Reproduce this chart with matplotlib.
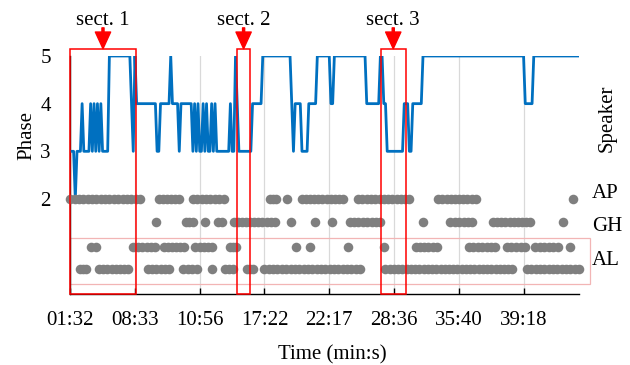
import numpy as np
import matplotlib
matplotlib.use("Agg")
import matplotlib.pyplot as plt
from matplotlib.patches import Rectangle
from matplotlib.transforms import blended_transform_factory

plt.rcParams["font.family"] = ["Liberation Serif", "DejaVu Serif"]
plt.rcParams["font.size"] = 15

# Time axis: one label every 38 time steps
TICK_LABELS = ["01:32", "08:33", "10:56", "17:22", "22:17", "28:36", "35:40", "39:18"]
TICK_STEP = 38
X_MAX = 298.7

# Phase per time step, run-length encoded as (phase, number of steps)
PHASE_RUNS = [
    (3, 3), (2, 1), (3, 3), (4, 1), (3, 4),
    (4, 1), (3, 1), (4, 1), (3, 1), (4, 1), (3, 1), (4, 1),
    (3, 4), (5, 13), (4, 1), (3, 1), (5, 1), (4, 12), (3, 2), (4, 6),
    (5, 1), (4, 4), (3, 1), (4, 7),
    (3, 1), (4, 1), (3, 1), (4, 1), (3, 2), (4, 1), (3, 1), (4, 1),
    (3, 2), (4, 1), (3, 1), (4, 1),
    (3, 8), (4, 1), (3, 2), (5, 1), (4, 1), (3, 8), (4, 6), (5, 17),
    (4, 1), (3, 1), (4, 4), (3, 4), (4, 5),
    (5, 8), (4, 2), (5, 19), (4, 8), (5, 2), (4, 2), (3, 10), (4, 3),
    (3, 2), (4, 6), (5, 60), (4, 5), (5, 27),
]

# Speaker rows: label, row height on the phase scale
SPEAKER_LABELS = ["AP", "GH", "AL"]
SPEAKER_LABEL_Y = [2.015, 1.33, 0.615]
ROW_Y = {"AP": 2.0, "GH": 1.52, "AL_upper": 1.0, "AL_lower": 0.54}

# Stretches of time steps (first, last) where each row has dots
AP_RUNS = [(0, 41), (52, 64), (72, 90), (117, 121), (127, 127), (136, 160),
           (169, 199), (216, 238), (295, 295)]
GH_RUNS = [(50.5, 50.5), (68, 72), (79, 79), (87, 89), (96, 120), (129.5, 129.5),
           (143.5, 143.5), (153.5, 153.5), (164, 182), (207, 207), (223, 236),
           (248, 270), (289, 289)]
AL_UPPER_RUNS = [(12.5, 15), (37, 50), (55, 67), (73.5, 83.5), (93.5, 97.5),
                 (132.5, 132.5), (140.5, 140.5), (163, 163), (184, 184), (203, 215),
                 (234, 249.5), (256, 267), (273, 286), (293, 293)]
AL_LOWER_RUNS = [(5.5, 9.5), (17, 34), (45.5, 58), (66, 74.5), (83.5, 83.5),
                 (91, 95.5), (103.5, 107.5), (114, 170), (185, 259.5), (268, 298.5)]

# Highlighted sections (first step, last step)
SECTIONS = ["sect. 1", "sect. 2", "sect. 3"]
SECTION_SPANS = [(0, 38.5), (98, 105.5), (182.3, 196.8)]

DOT_GAP = 2.5  # spacing of dots inside a stretch, in time steps


def run_dots(runs):
    """Expand (first, last) stretches into dot positions."""
    xs = []
    for a, b in runs:
        n = int(round((b - a) / DOT_GAP)) + 1
        xs.extend(np.linspace(a, b, n))
    return np.array(xs)


fig = plt.figure(figsize=(6.3, 3.65), dpi=100)
ax = fig.add_axes([0.1114, 0.1937, 0.8081, 0.6529])

# Phase line
phase = np.repeat([p for p, _ in PHASE_RUNS], [n for _, n in PHASE_RUNS])
steps = np.arange(len(phase))
ax.plot(steps, phase, color="#0070C0", lw=2.0, zorder=3)

# Speaker dots
rows = [("AP", AP_RUNS), ("GH", GH_RUNS), ("AL_upper", AL_UPPER_RUNS), ("AL_lower", AL_LOWER_RUNS)]
for name, runs in rows:
    xs = run_dots(runs)
    ax.scatter(xs, np.full(len(xs), ROW_Y[name]), s=6.9 ** 2, color="#7F7F7F",
               linewidths=0, zorder=4, clip_on=False)

# Box round the two AL rows
ax.add_patch(Rectangle((0, 0.21), 305, 0.966, fill=False, edgecolor="#F2B5B5",
                       lw=0.9, zorder=2, clip_on=False))

# Sections: red boxes, arrows and names
for name, (a, b) in zip(SECTIONS, SECTION_SPANS):
    ax.add_patch(Rectangle((a, 0), b - a, 5.153, fill=False, edgecolor="#FF0000",
                           lw=1.1, zorder=5, clip_on=False))
    mid = (a + b) / 2
    ax.annotate("", xy=(mid, 5.153), xytext=(mid, 5.59),
                arrowprops=dict(facecolor="#FF0000", edgecolor="#FF0000", width=1.5,
                                headwidth=11, headlength=12, shrink=0),
                annotation_clip=False, zorder=6)
    ax.text(mid, 5.645, name, ha="center", va="baseline")

# Axes
ax.set_xlim(0, X_MAX)
ax.set_ylim(0, 5)
ax.set_xticks(np.arange(len(TICK_LABELS)) * TICK_STEP)
ax.set_xticklabels(TICK_LABELS)
ax.set_yticks([2, 3, 4, 5])
ax.tick_params(axis="x", direction="in", length=4, width=1, pad=12)
ax.tick_params(axis="y", length=0, pad=14)
ax.grid(axis="x", color="#D9D9D9", lw=0.9, zorder=0)
ax.set_axisbelow(True)
for side in ("top", "right"):
    ax.spines[side].set_visible(False)
for side in ("left", "bottom"):
    ax.spines[side].set_linewidth(1.0)

ax.text(-0.085, 0.668, "Phase", rotation=90, ha="center", va="center", transform=ax.transAxes)
ax.text(1.054, 0.739, "Speaker", rotation=90, ha="center", va="center", transform=ax.transAxes)
ax.text(0.515, -0.2715, "Time (min:s)", ha="center", va="baseline", transform=ax.transAxes)

label_tf = blended_transform_factory(ax.transAxes, ax.transData)
for label, y in zip(SPEAKER_LABELS, SPEAKER_LABEL_Y):
    ax.text(1.025, y, label, ha="left", va="baseline", transform=label_tf)

fig.savefig("out.png", dpi=100)
